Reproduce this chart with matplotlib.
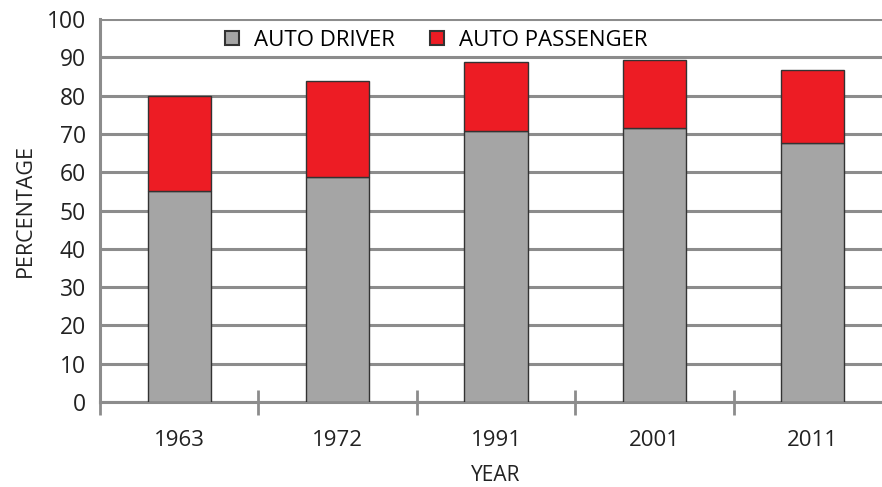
import matplotlib.pyplot as plt
from matplotlib.lines import Line2D

# data
years = ["1963", "1972", "1991", "2001", "2011"]
auto_driver = [55.1, 58.8, 70.8, 71.5, 67.7]
auto_passenger = [24.8, 24.9, 17.9, 17.8, 18.9]

grey = "#A5A5A5"
red = "#ED1C24"
edge = "#333333"
axis_grey = "#8C8C8C"

plt.rcParams["font.family"] = ["Open Sans", "DejaVu Sans"]

fig = plt.figure(figsize=(8.82, 4.87), dpi=100)
ax = fig.add_axes([100 / 882, 85 / 487, 792 / 882, 383 / 487])

x = list(range(len(years)))
ax.bar(x, auto_driver, width=0.4, color=grey, edgecolor=edge, linewidth=1, zorder=3)
ax.bar(x, auto_passenger, width=0.4, bottom=auto_driver, color=red,
       edgecolor=edge, linewidth=1, zorder=3)

ax.set_xlim(-0.5, len(years) - 0.5)
ax.set_ylim(0, 100)
ax.set_yticks(range(0, 101, 10))
ax.yaxis.grid(True, color=axis_grey, linewidth=2.2, zorder=0)
ax.tick_params(axis="y", length=0, labelsize=16.5, pad=10, colors="#222222")

# category ticks sit between the bars, labels in the middle
ax.set_xticks([i - 0.5 for i in range(len(years) + 1)])
ax.set_xticklabels([])
ax.set_xticks(x, minor=True)
ax.set_xticklabels(years, minor=True)
ax.tick_params(axis="x", which="major", direction="inout", length=18,
               width=2, color=axis_grey)
ax.tick_params(axis="x", which="minor", length=0, labelsize=16, pad=20,
               colors="#222222")

for side in ["top", "right"]:
    ax.spines[side].set_visible(False)
for side in ["left", "bottom"]:
    ax.spines[side].set_color(axis_grey)
    ax.spines[side].set_linewidth(2.2)

ax.set_xlabel("YEAR", fontsize=15, labelpad=10, color="#222222")
ax.set_ylabel("PERCENTAGE", fontsize=15.5, labelpad=8, color="#222222")

handles = [
    Line2D([], [], marker="s", linestyle="none", markersize=10,
           markerfacecolor=grey, markeredgecolor=edge, markeredgewidth=1.5),
    Line2D([], [], marker="s", linestyle="none", markersize=10,
           markerfacecolor=red, markeredgecolor=edge, markeredgewidth=1.5),
]
fig.legend(handles, ["AUTO DRIVER", "AUTO PASSENGER"], ncol=2,
           loc="center", bbox_to_anchor=(434 / 882, 1 - 40 / 487),
           frameon=False, fontsize=16, handletextpad=0.5, columnspacing=1.4,
           handlelength=1.0)

fig.savefig("out.png", dpi=100)
